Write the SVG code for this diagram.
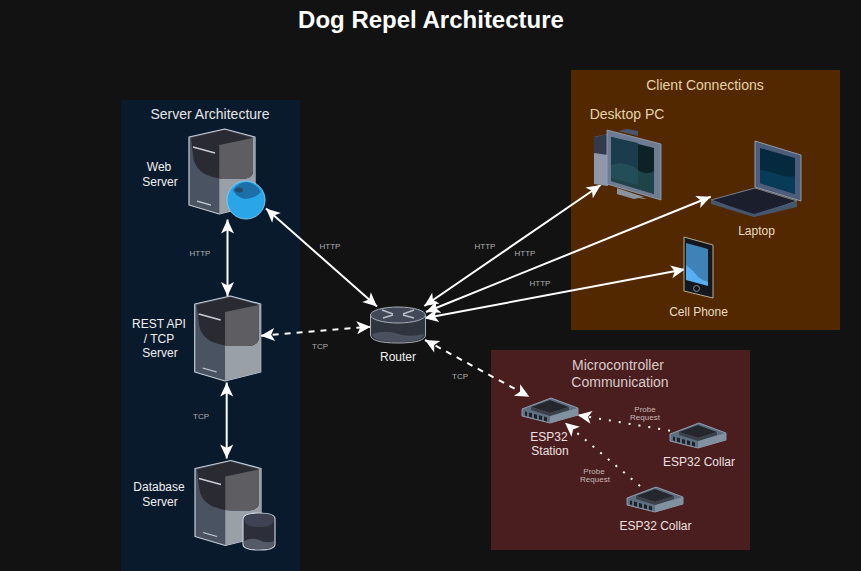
<svg xmlns="http://www.w3.org/2000/svg" width="861" height="571" viewBox="0 0 861 571">
<style>
text{font-family:"Liberation Sans",Arial,sans-serif;text-anchor:middle}
.t{font-size:12px;fill:#f0f0f0}
.h{font-size:14px;fill:#e6e6e6}
.c{font-size:12px;fill:#e8dcc4}
.ch{font-size:14px;fill:#e6d3aa}
.m{font-size:12px;fill:#eee0e0}
.mh{font-size:14px;fill:#d9caca}
.s{font-size:8px;fill:#b0b0b0}
.sm{font-size:8px;fill:#c8b8b8}
.l{fill:none;stroke:#fff;stroke-width:2}
.d{stroke-dasharray:6 6}
.o{stroke-dasharray:2 8}
.e{stroke:#c4ccd6;stroke-width:1.2;stroke-linejoin:round}
</style>
<defs>
<marker id="a" markerUnits="userSpaceOnUse" markerWidth="18" markerHeight="18" refX="15" refY="9" orient="auto-start-reverse"><path d="M15 9L1 2.5 4.5 9 1 15.5Z" fill="#fff"/></marker>
<g id="server">
<path class="e" d="M0 8L35.700 0 66 8V76L30.300 85 0 76Z" fill="#4a5361"/>
<path d="M30.300 16L66 8V76L30.300 85Z" fill="#9aa0a8"/>
<path d="M2 9L35.700 1 64 9V44Q62 50 52 50H38Q28 50 18 46 5 40 4 26Z" fill="#2a2a33"/>
<path d="M30.300 16L64 9V44Q62 50 52 50H38Q34 50 30.300 49.500Z" fill="#5e5e62"/>
<path d="M4 18L26 24M8 72L22 76" stroke="#c9ced6" stroke-width="1.300" fill="none"/>
</g>
<g id="switch">
<path d="M0 11L29 0 56 10V17L28 25 0 18Z" fill="#5d6f80" stroke="#9fb0c0" stroke-width=".8"/>
<path d="M28 25L56 17V10L28 18Z" fill="#82919f"/>
<path d="M9 9L28 2 47 9 28 15Z" fill="#25272e"/>
<path d="M9 9V12L28 18 47 12V9L28 15Z" fill="#3c4048"/>
<path d="M3 13.500L5 14V18L3 17.500ZM7 14.500L10 15.300V19.500L7 18.800ZM12 16L15 16.800V21L12 20.200ZM17 17.300L20 18V22L17 21.400ZM22 18.600L25 19.400V23.500L22 22.700Z" fill="#1d2026"/>
</g>
</defs>
<rect width="861" height="571" fill="#121212"/>
<text x="431" y="28" font-size="24" font-weight="700" fill="#fff">Dog Repel Architecture</text>
<rect x="121" y="100" width="179" height="471" fill="#0a1a2d"/>
<rect x="571" y="70" width="269" height="260" fill="#522800"/>
<rect x="491" y="350" width="259" height="200" fill="#4a1e1e"/>
<g id="panel-labels">
<text class="h" x="210" y="119">Server Architecture</text>
<text class="ch" x="705" y="90">Client Connections</text>
<text class="mh" x="618" y="370">Microcontroller</text>
<text class="mh" x="620" y="387">Communication</text>
</g>
<g id="connectors">
<path class="l" marker-start="url(#a)" marker-end="url(#a)" d="M227.500 219.500V296"/>
<path class="l" marker-start="url(#a)" marker-end="url(#a)" d="M226.700 382.500V458.500"/>
<path class="l" marker-start="url(#a)" marker-end="url(#a)" d="M266 208.500L377 306.500"/>
<path class="l d" marker-start="url(#a)" marker-end="url(#a)" d="M260.700 335.700L370.700 326.700"/>
<path class="l d" marker-start="url(#a)" marker-end="url(#a)" d="M425 340L529.300 396.700"/>
<path class="l" marker-start="url(#a)" marker-end="url(#a)" d="M424.300 306L600.700 185"/>
<path class="l" marker-start="url(#a)" marker-end="url(#a)" d="M426 312L710.700 196.700"/>
<path class="l" marker-start="url(#a)" marker-end="url(#a)" d="M424.300 318.300L685 269.300"/>
<path class="l o" marker-end="url(#a)" d="M670 430.700L577.700 415"/>
<path class="l o" marker-end="url(#a)" d="M640 486L565 422.700"/>
<text class="s" x="200" y="256">HTTP</text>
<text class="s" x="201" y="419">TCP</text>
<text class="s" x="330" y="249">HTTP</text>
<text class="s" x="320" y="349">TCP</text>
<text class="s" x="485" y="249">HTTP</text>
<text class="s" x="525" y="256">HTTP</text>
<text class="s" x="540" y="286">HTTP</text>
<text class="s" x="460" y="379">TCP</text>
<text class="sm" x="645" y="412">Probe</text>
<text class="sm" x="645" y="420">Request</text>
<text class="sm" x="594" y="474">Probe</text>
<text class="sm" x="595" y="482">Request</text>
</g>
<g id="web-server">
<use href="#server" x="189" y="129"/>
<circle cx="246" cy="200" r="19" fill="#2aa5e8" stroke="#7cc8f0" stroke-width="1"/>
<path d="M233 190Q239 182 247 182 257 184 261 192 254 199 245 199 237 198 233 190Z" fill="#1d6fa8"/>
<ellipse cx="239" cy="190" rx="4" ry="2.500" fill="#254a6a"/>
<text class="t"><tspan x="159" y="171">Web</tspan><tspan x="160" y="186">Server</tspan></text>
</g>
<g id="rest-server">
<use href="#server" x="194.700" y="296"/>
<text class="t"><tspan x="159" y="328">REST API</tspan><tspan x="159" y="342.500">/ TCP</tspan><tspan x="160" y="357">Server</tspan></text>
</g>
<g id="database-server">
<use href="#server" x="195" y="460.500"/>
<path class="e" d="M243 519Q243 513 259 513 275 513 275 519V544Q275 550 259 550 243 550 243 544Z" fill="#2c2f3a"/>
<path d="M244 519Q244 514 259 514 274 514 274 519 274 527 259 527 244 527 244 519Z" fill="#3e4253"/>
<path d="M244 541Q252 537 259 540 267 544 274 541V544Q274 549 259 549 244 549 244 544Z" fill="#555a68"/>
<text class="t"><tspan x="159" y="491">Database</tspan><tspan x="160" y="506">Server</tspan></text>
</g>
<g id="router">
<path d="M370.500 316V335Q371 343 398 343 425 343 425.500 335V316Z" fill="#30343f" stroke="#a8aeb8"/>
<ellipse cx="398" cy="315" rx="27.500" ry="8" fill="#434858" stroke="#a8aeb8"/>
<path d="M372 334Q384 330 395 333 408 338 424 334 423 342 398 342 373 342 372 334Z" fill="#4b505e"/>
<path d="M382 310L393 314M383 318L393 315M414 310L403 314M414 318L403 315" stroke="#b8bcc4" stroke-width="1.500"/>
<text class="t" x="398" y="361">Router</text>
</g>
<g id="desktop-pc">
<text class="ch" x="627" y="119">Desktop PC</text>
<path d="M594 137L608 134V186L594 184Z" fill="#8e98a8"/>
<path d="M594 137L608 134V155L594 153Z" fill="#333a4c"/>
<path d="M618 131L627 129 638 131V136Z" fill="#4a5568"/>
<path d="M617 191L647 199 644 199 617 194Z" fill="#8a94a0"/>
<path d="M617 188L644 197 634 199 617 194Z" fill="#8a94a0"/>
<path d="M607 130L661 144V200L607 184Z" fill="#6d7c93" stroke="#9aa6b6" stroke-width=".8"/>
<path d="M611 137L654 148V194L611 181Z" fill="#0d2226"/>
<path d="M611 137L638 143V185L611 178Z" fill="#1a3c4c"/>
<path d="M611 165Q625 160 638 170 646 176 654 171V194L611 181Z" fill="#2a5a60" opacity=".6"/>
</g>
<g id="laptop">
<path d="M755 141L801 155V201L755 187Z" fill="#4b5d7a" stroke="#a4b0c0" stroke-width=".8"/>
<path d="M760 148L795 158V194L760 183Z" fill="#05293f"/>
<path d="M760 170Q772 172 780 175 788 178 795 176V194L760 183Z" fill="#083b58"/>
<path d="M711 200L755 188 797 201 754 216Z" fill="#1b1e2c" stroke="#8a96a8" stroke-width=".8"/>
<path d="M711 200V204L754 217 797 207 797 201 754 214Z" fill="#46566f"/>
<text class="c" x="756.500" y="235">Laptop</text>
</g>
<g id="cell-phone">
<path d="M684 237L713 245V298L684 291Z" fill="#14171d" stroke="#b9ad90" stroke-width="1"/>
<path d="M686 243L708 249V285L686 279Z" fill="#3f82b8"/>
<path d="M686 265Q693 270 698 277 703 281 708 282V286L686 280Z" fill="#58b0f4"/>
<circle cx="696.500" cy="288.500" r="3" fill="none" stroke="#8a8a8a"/>
<text class="c" x="698.500" y="316">Cell Phone</text>
</g>
<g id="esp32-station">
<use href="#switch" x="522" y="398"/>
<text class="m"><tspan x="549" y="441">ESP32</tspan><tspan x="550" y="455">Station</tspan></text>
</g>
<g id="esp32-collar-1">
<use href="#switch" x="670" y="423"/>
<text class="m" x="699" y="466">ESP32 Collar</text>
</g>
<g id="esp32-collar-2">
<use href="#switch" x="627" y="487"/>
<text class="m" x="655.500" y="530">ESP32 Collar</text>
</g>
</svg>
